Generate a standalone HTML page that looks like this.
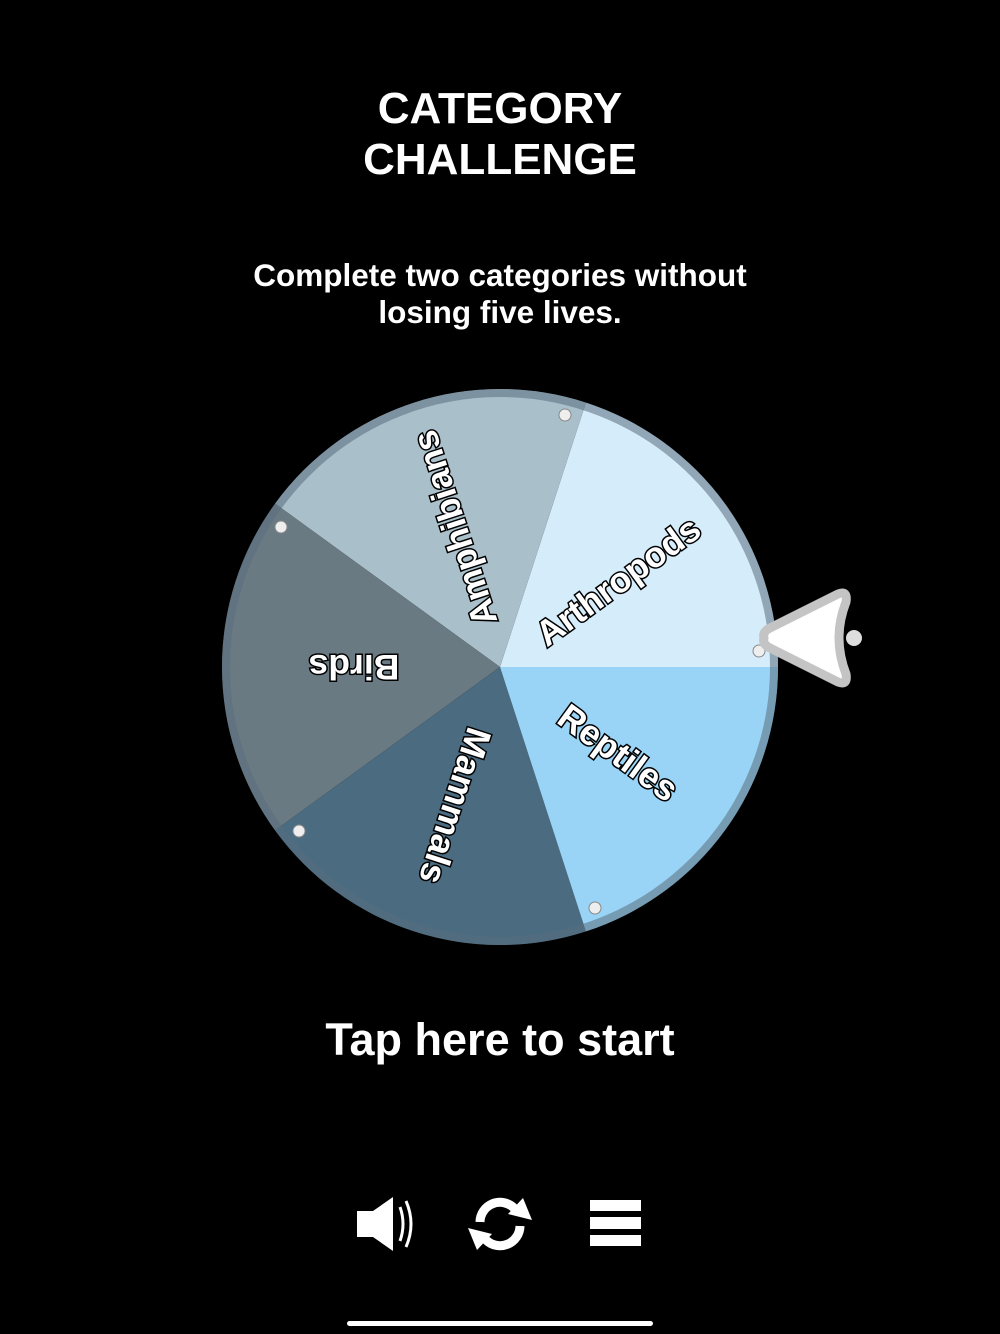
<!DOCTYPE html>
<html><head><meta charset="utf-8"><style>
html,body{margin:0;padding:0;background:#000;}
body{width:1000px;height:1334px;position:relative;overflow:hidden;font-family:"Liberation Sans",Arial,sans-serif;color:#fff;font-weight:bold;}
.t{position:absolute;left:0;width:1000px;text-align:center;}
</style></head><body>
<div class="t" style="top:83px;font-size:44px;line-height:51px;">CATEGORY<br>CHALLENGE</div>
<div class="t" style="top:257px;font-size:31.5px;line-height:37px;">Complete two categories without<br>losing five lives.</div>
<div class="t" style="top:1014px;font-size:45px;line-height:52px;">Tap here to start</div>
<svg width="1000" height="1334" style="position:absolute;left:0;top:0">
<g transform="translate(500,667)">
<path d="M0 0 L278 0 A278 278 0 0 0 85.9 -264.4 Z" fill="#d5ecfa"/>
<path d="M0 0 L85.9 -264.4 A278 278 0 0 0 -224.9 -163.4 Z" fill="#a9bfc9"/>
<path d="M0 0 L-224.9 -163.4 A278 278 0 0 0 -224.9 163.4 Z" fill="#6a7a83"/>
<path d="M0 0 L-224.9 163.4 A278 278 0 0 0 85.9 264.4 Z" fill="#4b6b80"/>
<path d="M0 0 L85.9 264.4 A278 278 0 0 0 278 0 Z" fill="#99d4f6"/>
<circle r="274" fill="none" stroke="rgba(90,110,125,0.55)" stroke-width="8"/>
<g fill="#eee" stroke="#888" stroke-width="1">
<circle cx="65" cy="-252" r="6"/><circle cx="-219" cy="-140" r="6"/><circle cx="-201" cy="164" r="6"/><circle cx="95" cy="241" r="6"/><circle cx="259" cy="-16" r="6"/>
</g>
<g font-family="Liberation Sans, Arial, sans-serif" font-weight="bold" font-size="35.5" fill="#fff" stroke="#000" stroke-width="3" paint-order="stroke" text-anchor="middle">
<text transform="rotate(-36) translate(146,12)">Arthropods</text>
<text transform="rotate(-108) translate(146,12)">Amphibians</text>
<text transform="rotate(180) translate(146,12)">Birds</text>
<text transform="rotate(108) translate(146,12)">Mammals</text>
<text transform="rotate(36) translate(146,12)">Reptiles</text>
</g>
</g>
<path d="M764 638 Q762 632 770 628 L838 594 Q848 590 846 602 Q832 638 846 674 Q848 686 838 682 L770 648 Q762 644 764 638 Z" fill="#fff" stroke="#c4c4c4" stroke-width="9" stroke-linejoin="round"/>
<circle cx="854" cy="638" r="8" fill="#ddd"/>
<g fill="#fff">
<rect x="357" y="1211" width="16" height="26"/>
<polygon points="373,1211 393,1197 393,1251 373,1237"/>
</g>
<path d="M400 1207 Q406 1224 400 1241" stroke="#fff" stroke-width="3" fill="none"/>
<path d="M406 1201 Q416 1224 406 1247" stroke="#fff" stroke-width="3" fill="none"/>
<g fill="none" stroke="#fff" stroke-width="9">
<path d="M480 1222 A20 20 0 0 1 514 1208"/>
<path d="M520 1226 A20 20 0 0 1 486 1240"/>
</g>
<polygon points="508,1214 523,1198 532,1220" fill="#fff"/>
<polygon points="492,1234 477,1250 468,1228" fill="#fff"/>
<g fill="#fff">
<rect x="590" y="1200" width="51" height="11"/><rect x="590" y="1217" width="51" height="12"/><rect x="590" y="1235" width="51" height="11"/>
</g>
<rect x="347" y="1321" width="306" height="5" rx="2.5" fill="#fff"/>
</svg>
</body></html>
